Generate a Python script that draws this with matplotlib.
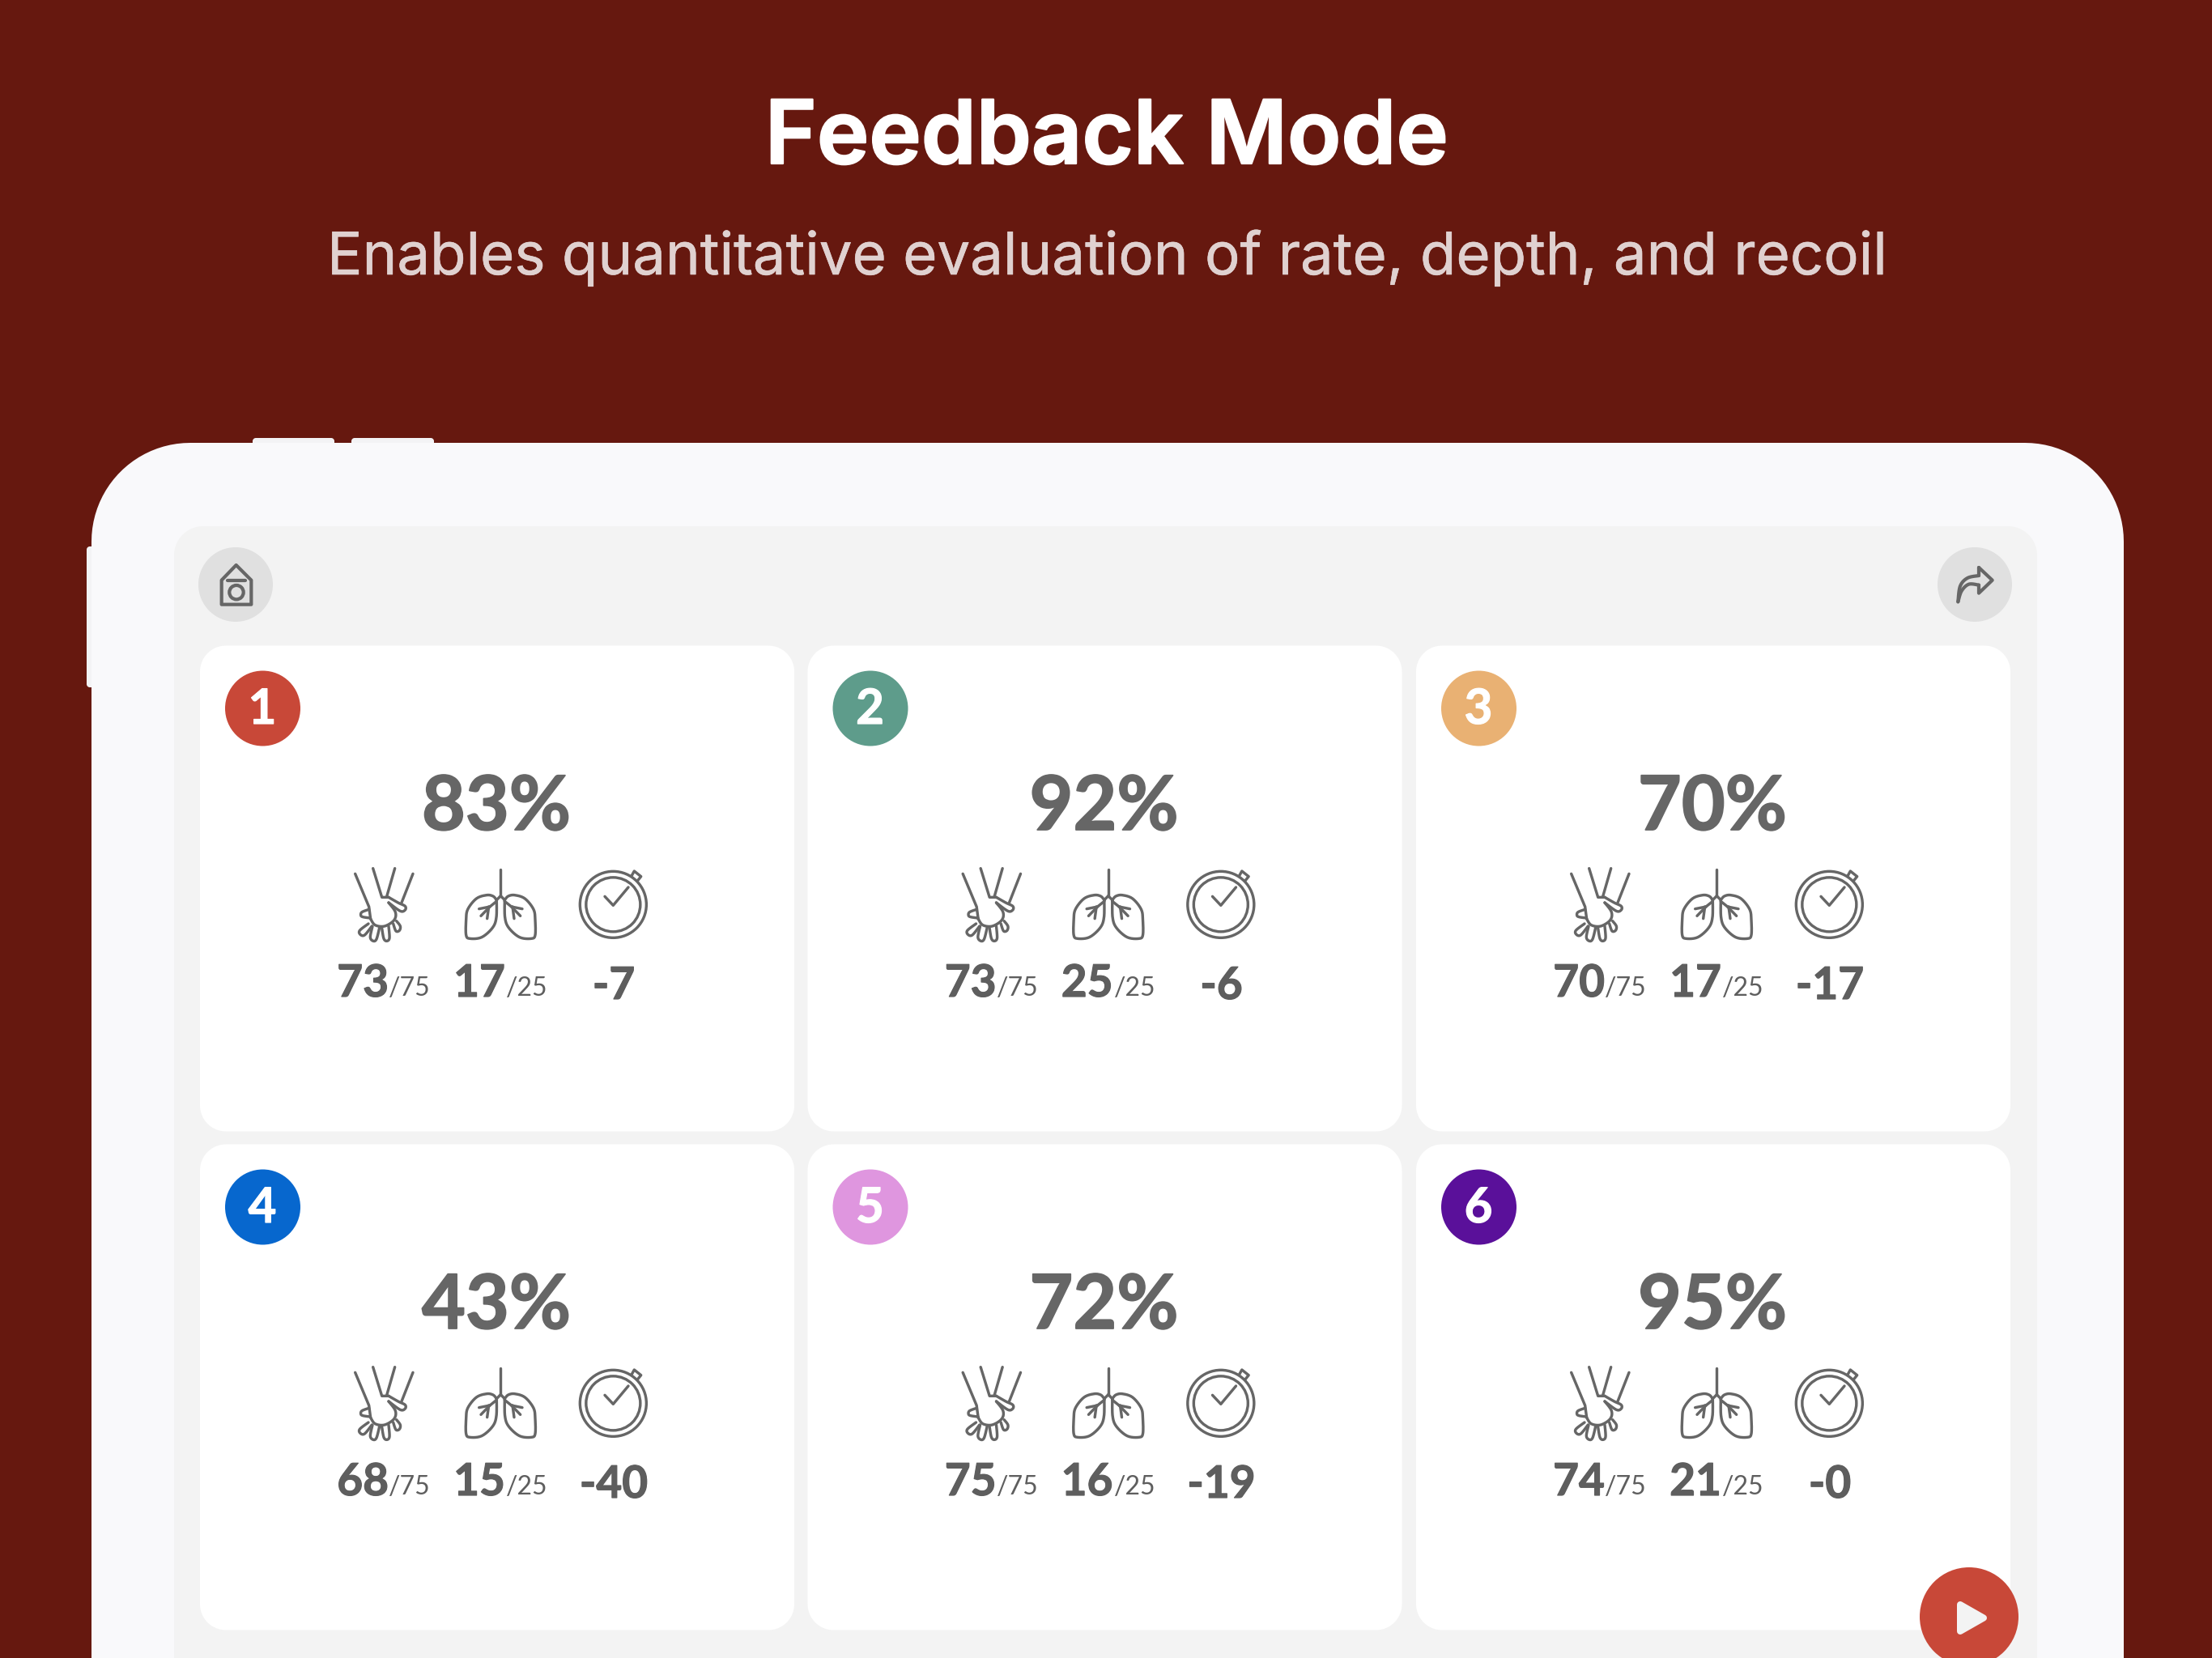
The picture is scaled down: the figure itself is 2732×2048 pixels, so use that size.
import numpy as np
import matplotlib
matplotlib.use("Agg")
import matplotlib.pyplot as plt
import matplotlib.patheffects as pe
from matplotlib.patches import Circle, Polygon

# values
card_numbers = ["1", "2", "3", "4", "5", "6"]
scores = ["83%", "92%", "70%", "43%", "72%", "95%"]
compressions = [73, 73, 70, 68, 75, 74]
ventilations = [17, 25, 17, 15, 16, 21]
timings = ["-7", "-6", "-17", "-40", "-19", "-0"]
compressions_total = "/75"
ventilations_total = "/25"
title = "Feedback Mode"
subtitle = "Enables quantitative evaluation of rate, depth, and recoil"

BG = "#66180F"
DEVICE = "#F9F9FB"
PANEL = "#F3F3F3"
BUTTON = "#E0E0E0"
GREY = "#666666"
VALUE_GREY = "#5E5E5E"
RED = "#C84838"
badge_colors = [RED, "#5E9C8B", "#E9B173", "#0767CE", "#DF96DF", "#5A109A"]

card_lefts = [247, 997.5, 1749]
card_tops = [797, 1413]
CARD_W = 734
CARD_H = 600

PX = 0.72  # px to points at dpi 100


def smooth(pts, n=12):
    # catmull-rom through the hand traced points
    pts = np.array(pts, dtype=float)
    p = np.vstack([pts[0], pts, pts[-1]])
    out = []
    for i in range(1, len(p) - 2):
        for t in np.linspace(0, 1, n, endpoint=False):
            a = 2 * p[i]
            b = (p[i + 1] - p[i - 1]) * t
            c = (2 * p[i - 1] - 5 * p[i] + 4 * p[i + 1] - p[i + 2]) * t ** 2
            d = (3 * p[i] - p[i - 1] - 3 * p[i + 1] + p[i + 2]) * t ** 3
            out.append(0.5 * (a + b + c + d))
    out.append(p[-2])
    return np.array(out)


def round_rect(ax, x, y, w, h, r, color):
    # FancyBboxPatch corners are too square, so use real arcs
    pts = []
    for cx, cy, a0 in [(x + r, y + r, 180), (x + w - r, y + r, 270), (x + w - r, y + h - r, 0), (x + r, y + h - r, 90)]:
        ang = np.radians(np.linspace(a0, a0 + 90, 24))
        pts.extend(zip(cx + r * np.cos(ang), cy + r * np.sin(ang)))
    ax.add_patch(Polygon(pts, closed=True, fc=color, ec="none"))


def stroke(ax, pts, ox, oy, lw=3.4, color=GREY, curved=False):
    # icon outlines are traced at 3x zoom
    pts = smooth(pts) if curved else np.array(pts, dtype=float)
    ax.plot(ox + pts[:, 0] / 3, oy + pts[:, 1] / 3, color=color, lw=lw * PX,
            solid_capstyle="round", solid_joinstyle="round")


def bold_text(ax, x, y, s, size, color, ha="center", fat=1.2):
    # the installed bold is a bit thinner than the reference
    return ax.text(x, y, s, color=color, fontsize=size * PX, family="Lato", weight="bold", ha=ha, va="baseline",
                   path_effects=[pe.withStroke(linewidth=fat * PX, foreground=color)])


def draw_hand(ax, ox, oy):
    stroke(ax, [(41, 58), (92, 180), (98, 225)], ox, oy)
    stroke(ax, [(107, 38), (140, 145), (165, 145)], ox, oy)
    stroke(ax, [(188, 38), (158, 142)], ox, oy)
    stroke(ax, [(255, 58), (213, 165)], ox, oy)
    stroke(ax, [(165, 145), (200, 165), (226, 178), (226, 192), (208, 196), (165, 165)], ox, oy, curved=True)
    stroke(ax, [(165, 165), (190, 200), (185, 230), (150, 252), (115, 248), (98, 225)], ox, oy, curved=True)
    stroke(ax, [(92, 190), (66, 200), (62, 212), (70, 218), (97, 222)], ox, oy, curved=True)
    stroke(ax, [(90, 243), (58, 268), (60, 283), (76, 285), (103, 252)], ox, oy, curved=True)
    stroke(ax, [(105, 253), (97, 293), (108, 307), (120, 300), (131, 258)], ox, oy, curved=True)
    stroke(ax, [(140, 260), (147, 298), (158, 307), (168, 296), (165, 252)], ox, oy, curved=True)
    stroke(ax, [(182, 243), (192, 270), (205, 268), (208, 252), (194, 233)], ox, oy, curved=True)


def draw_lungs(ax, ox, oy):
    stroke(ax, [(580, 42), (580, 140)], ox, oy)
    for side in [1, -1]:
        def m(pts):
            return [(580 + side * (x - 580), y) for x, y in pts]
        stroke(ax, m([(580, 140), (565, 155)]), ox, oy)
        stroke(ax, m([(565, 155), (552, 141), (528, 137), (490, 150), (458, 190), (452, 230),
                      (452, 285), (466, 298), (510, 293), (550, 258), (564, 220), (565, 155)]),
               ox, oy, curved=True)
        stroke(ax, m([(565, 160), (540, 180), (500, 188)]), ox, oy)
        stroke(ax, m([(540, 180), (507, 214)]), ox, oy)
        stroke(ax, m([(536, 180), (530, 224)]), ox, oy)


def draw_watch(ax, ox, oy):
    c = (ox + 172 / 3, oy + 172 / 3)
    ax.add_patch(Circle(c, 41, fc="none", ec=GREY, lw=3.4 * PX))
    ax.add_patch(Circle(c, 33.5, fc="none", ec=GREY, lw=3.4 * PX))
    stroke(ax, [(240, 66), (250, 48), (275, 68), (262, 84)], ox, oy)
    stroke(ax, [(141, 142), (172, 175), (228, 108)], ox, oy)


def draw_card(ax, i):
    row, col = divmod(i, 3)
    x0 = card_lefts[col]
    y0 = card_tops[row]
    round_rect(ax, x0, y0 + 0.5, CARD_W, CARD_H, 32, "white")
    ax.add_patch(Circle((x0 + 77.5, y0 + 78), 46.5, fc=badge_colors[i], ec="none"))
    bold_text(ax, x0 + 77, y0 + 97, card_numbers[i], 60, "white")
    bold_text(ax, x0 + 366, y0 + 228, scores[i], 93, GREY, fat=1.8)

    # icons are traced relative to the first card
    dx = x0 - 247
    dy = y0 - 797
    draw_hand(ax, 425 + dx, 1060 + dy)
    draw_lungs(ax, 425 + dx, 1060 + dy)
    draw_watch(ax, 700 + dx, 1060 + dy)

    bold_text(ax, x0 + 233, y0 + 434, str(compressions[i]), 55, VALUE_GREY, ha="right")
    ax.text(x0 + 233, y0 + 433, compressions_total, color=VALUE_GREY, fontsize=32 * PX, family="Lato",
            weight="normal", ha="left", va="baseline")
    bold_text(ax, x0 + 377, y0 + 434, str(ventilations[i]), 55, VALUE_GREY, ha="right")
    ax.text(x0 + 378, y0 + 433, ventilations_total, color=VALUE_GREY, fontsize=32 * PX, family="Lato",
            weight="normal", ha="left", va="baseline")
    bold_text(ax, x0 + 511, y0 + 437, timings[i], 55, VALUE_GREY)


fig = plt.figure(figsize=(27.32, 20.48), dpi=100, facecolor=BG)
ax = fig.add_axes([0, 0, 1, 1])
ax.set_xlim(0, 2732)
ax.set_ylim(2048, 0)
ax.axis("off")

ax.text(1367, 202, title, color="white", fontsize=109 * PX, family="Inter", weight="semibold",
        ha="center", va="baseline", path_effects=[pe.withStroke(linewidth=2.2 * PX, foreground="white")])
ax.text(1367, 339, subtitle, color="#E0D1D0", fontsize=72.5 * PX, family="Inter",
        ha="center", va="baseline", path_effects=[pe.withStroke(linewidth=0.6 * PX, foreground="#E0D1D0")])

# device frame and its side buttons
for bx, by, bw, bh in [(312, 541, 101, 12), (434, 541, 102, 12), (107, 675, 12, 174)]:
    round_rect(ax, bx, by, bw, bh, 4, "#F3F3F5")
round_rect(ax, 113, 547, 2510, 1800, 122, DEVICE)
round_rect(ax, 215, 650, 2301, 1700, 36, PANEL)

# home button
ax.add_patch(Circle((291, 722), 46, fc=BUTTON, ec="none"))
hx, hy = 90, 520
ax.add_patch(Polygon([(hx + x / 3, hy + y / 3) for x, y in
                      [(551, 590), (605, 534), (661, 590), (661, 680), (551, 680)]],
                     closed=True, fc="none", ec=GREY, lw=4.2 * PX, joinstyle="round"))
stroke(ax, [(572, 592), (638, 592)], hx, hy, lw=4.2)
ax.add_patch(Circle((hx + 606 / 3, hy + 635 / 3), 8.7, fc="none", ec=GREY, lw=4.2 * PX))

# share button
ax.add_patch(Circle((2439, 722), 46, fc=BUTTON, ec="none"))
stroke(ax, [(312, 183), (362, 230), (312, 278), (312, 248)], 2340, 640, lw=4.2)
stroke(ax, [(312, 183), (312, 213)], 2340, 640, lw=4.2)
stroke(ax, [(312, 213), (270, 222), (243, 252), (235, 310)], 2340, 640, lw=4.2, curved=True)
stroke(ax, [(312, 248), (275, 245), (248, 270), (235, 310)], 2340, 640, lw=4.2, curved=True)

for i in range(len(scores)):
    draw_card(ax, i)

# play button
ax.add_patch(Circle((2432, 1997), 61, fc=RED, ec="none"))
ax.add_patch(Polygon([(2421, 1982), (2450, 1998.5), (2421, 2015)], closed=True, fc=PANEL, ec=PANEL,
                     lw=8 * PX, joinstyle="round"))

fig.savefig("out.png", dpi=100, facecolor=BG)
